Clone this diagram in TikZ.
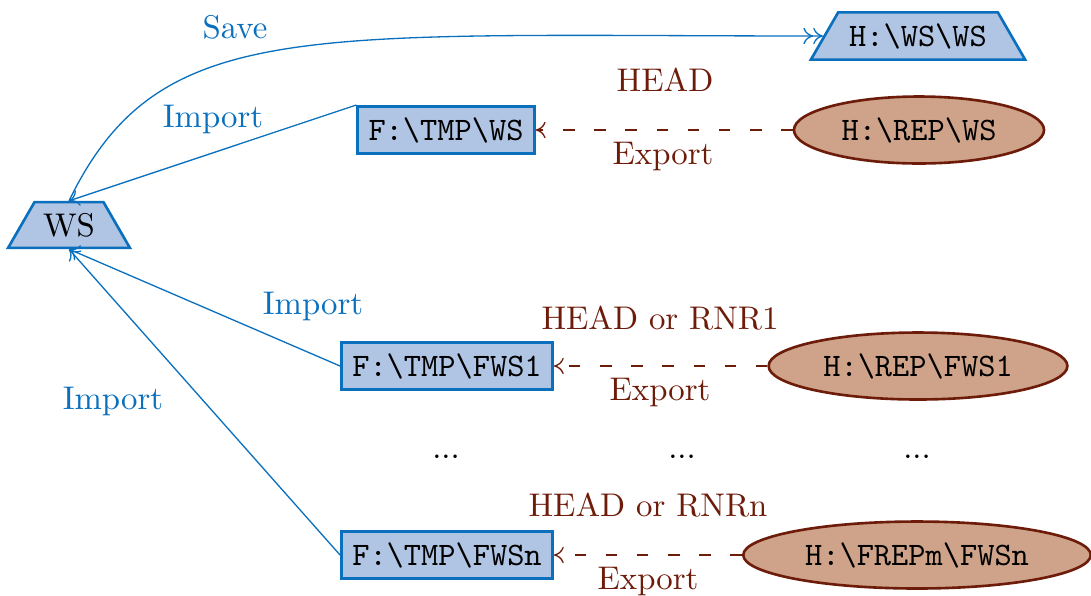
\documentclass[tikz,border=0pt]{standalone}
\usetikzlibrary{shapes.geometric,arrows.meta}
\definecolor{wsblue}{RGB}{10,112,190}
\definecolor{wsfill}{RGB}{176,196,228}
\definecolor{repbrown}{RGB}{110,28,10}
\definecolor{repfill}{RGB}{206,163,138}
\tikzset{
  wsnode/.style={trapezium, trapezium left angle=60, trapezium right angle=60,
    draw=wsblue, fill=wsfill, thick},
  tmpbox/.style={rectangle, draw=wsblue, fill=wsfill, thick, font=\ttfamily},
  repnode/.style={ellipse, draw=repbrown, fill=repfill, thick, font=\ttfamily},
  importline/.style={draw=wsblue, -{To[length=3pt,width=5pt]}},
  saveline/.style={draw=wsblue, -{To[length=3pt,width=5pt]To[length=3pt,width=5pt]}},
  exportline/.style={draw=repbrown, dash pattern=on 3.5pt off 6pt, -{To[length=3pt,width=5pt]}},
  bluelabel/.style={text=wsblue},
  brownlabel/.style={text=repbrown},
}
\begin{document}
\begin{tikzpicture}[x=0.3049pt,y=-0.3049pt]
\useasboundingbox (0,0) rectangle (1091,595);

% working set and its saved copy
\node[wsnode, inner xsep=2.6pt] (ws) at (69,225) {WS};
\node[wsnode, font=\ttfamily] (hws) at (918,36) {H:\textbackslash WS\textbackslash WS};

% temporary copies
\node[tmpbox] (tws) at (446,130) {F:\textbackslash TMP\textbackslash WS};
\node[tmpbox] (tf1) at (447,366) {F:\textbackslash TMP\textbackslash FWS1};
\node[tmpbox] (tfn) at (447,555) {F:\textbackslash TMP\textbackslash FWSn};

% repositories
\node[repnode] (rws) at (919,130) {H:\textbackslash REP\textbackslash WS};
\node[repnode] (rf1) at (918,366) {H:\textbackslash REP\textbackslash FWS1};
\node[repnode] (rfn) at (917,555) {H:\textbackslash FREPm\textbackslash FWSn};

% save
\draw[saveline] (ws.north) .. controls +(90,-185) and +(-520,0) .. (hws.west);
\node[bluelabel] (lsave) at (235,27) {Save};

% imports
\draw[importline] (tws.north west) -- (ws.north);
\draw[importline] (tf1.west) -- (ws.south);
\draw[importline] (tfn.west) -- (ws.south);
\node[bluelabel] (limp0) at (213,119) {Import};
\node[bluelabel] (limp1) at (313,306) {Import};
\node[bluelabel] (limp2) at (113,401) {Import};

% exports
\draw[exportline] (rws.west) -- (tws.east);
\draw[exportline] (rf1.west) -- (tf1.east);
\draw[exportline] (rfn.west) -- (tfn.east);
\node[brownlabel] (lhead0) at (665,80) {HEAD};
\node[brownlabel] (lexp0) at (663,157) {Export};
\node[brownlabel] (lhead1) at (660,318) {HEAD or RNR1};
\node[brownlabel] (lexp1) at (660,393) {Export};
\node[brownlabel] (lheadn) at (648,505) {HEAD or RNRn};
\node[brownlabel] (lexpn) at (648,582) {Export};

% elided rows
\node (dots1) at (446,457) {...};
\node (dots2) at (682,457) {...};
\node (dots3) at (917,457) {...};
\end{tikzpicture}
\end{document}
